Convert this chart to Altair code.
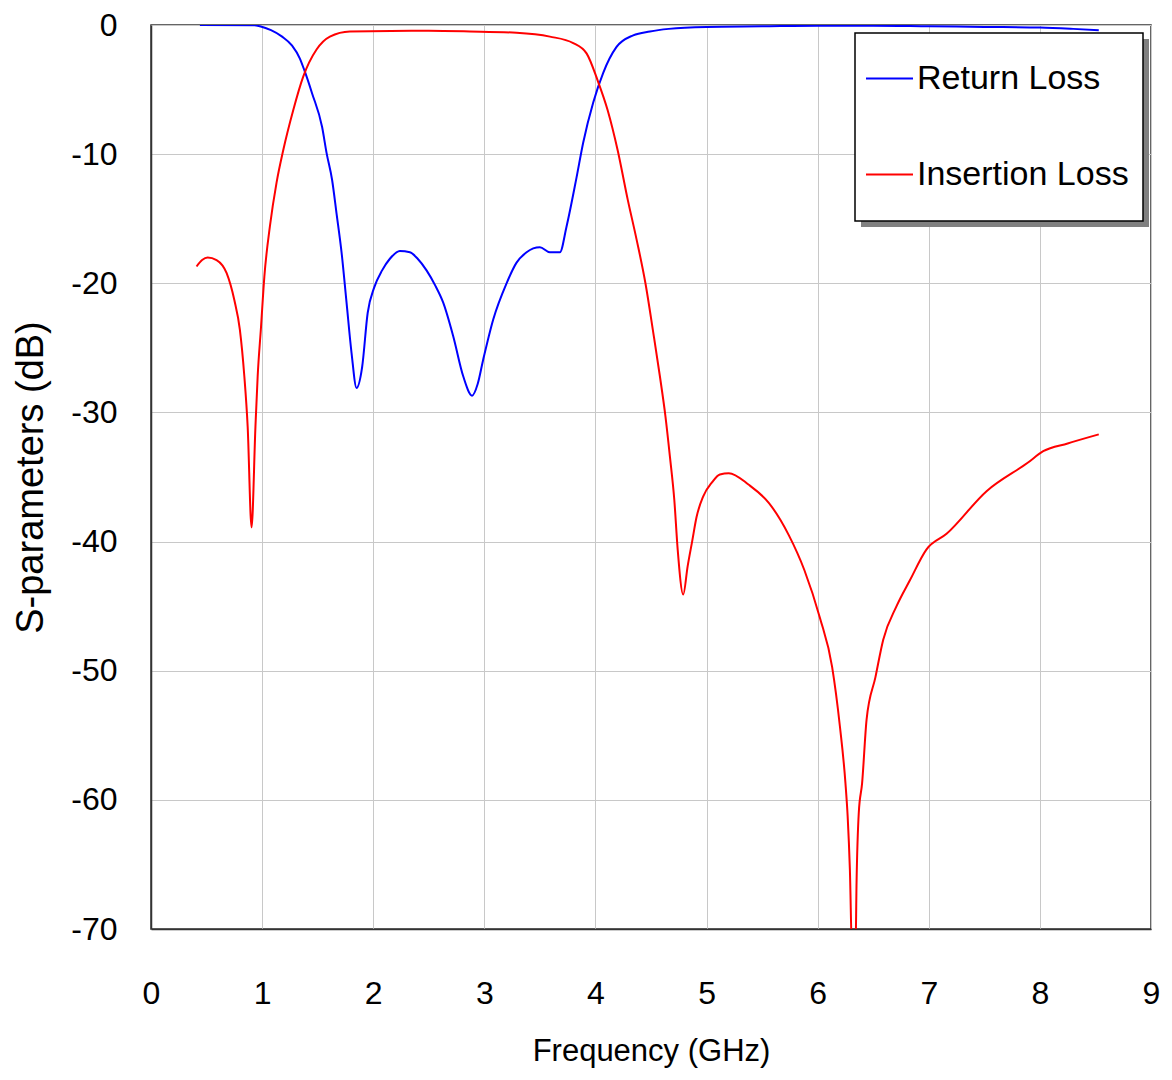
import altair as alt
import pandas as pd

# Return Loss (S11) – frequency in GHz, value in dB
rl_freq = [0.44, 0.93, 0.98, 1.08, 1.18, 1.27, 1.34, 1.38, 1.45, 1.54, 1.58, 1.63, 1.67, 1.715,
           1.76, 1.805, 1.85, 1.90, 1.95, 2.01, 2.08, 2.15, 2.24, 2.33, 2.40, 2.48, 2.56,
           2.63, 2.72, 2.81, 2.89, 2.94, 2.99, 3.08, 3.20, 3.29, 3.38, 3.44, 3.50, 3.59, 3.68,
           3.74, 3.83, 3.89, 3.98, 4.07, 4.19, 4.34, 4.49, 4.66, 5.00, 5.50, 6.00, 6.50, 7.00,
           7.50, 8.00, 8.30, 8.53]
rl_db = [0.0, -0.02, -0.1, -0.4, -0.9, -1.6, -2.6, -3.5, -5.3, -7.9, -9.9, -12.0, -14.6, -17.6,
         -21.5, -25.4, -28.1, -26.5, -22.3, -20.3, -19.0, -18.1, -17.5, -17.6, -18.1, -19.0, -20.2,
         -21.5, -24.1, -27.2, -28.7, -27.8, -25.9, -22.8, -20.0, -18.4, -17.6, -17.3, -17.2, -17.6, -17.6,
         -15.6, -11.8, -9.1, -6.0, -3.7, -1.7, -0.8, -0.5, -0.3, -0.15, -0.1, -0.05, -0.05, -0.1,
         -0.15, -0.2, -0.3, -0.4]

# Insertion Loss (S21)
il_freq = [0.41, 0.46, 0.51, 0.59, 0.68, 0.75, 0.80, 0.84, 0.87, 0.905, 0.94, 0.96, 0.99, 1.02,
           1.07, 1.13, 1.19, 1.28, 1.37, 1.49, 1.61, 1.79, 2.50, 2.87, 3.29, 3.59, 3.80, 3.92,
           4.02, 4.11, 4.20, 4.29, 4.37, 4.45, 4.52, 4.58, 4.63, 4.67, 4.71, 4.74, 4.79, 4.83,
           4.87, 4.91, 4.97, 5.05, 5.12, 5.20, 5.38, 5.56, 5.74, 5.88, 6.02, 6.13, 6.20, 6.25,
           6.27, 6.29, 6.31, 6.34, 6.35, 6.37, 6.40, 6.44, 6.52, 6.59, 6.71, 6.83, 6.98, 7.16,
           7.52, 7.89, 8.03, 8.25, 8.53]
il_db = [-18.7, -18.2, -18.0, -18.2, -19.2, -21.3, -23.6, -27.2, -31.1, -38.9, -31.1, -27.2, -23.4, -19.5,
         -15.6, -12.2, -9.7, -6.6, -4.0, -1.9, -0.9, -0.5, -0.45, -0.5, -0.6, -0.9, -1.4, -2.2,
         -4.3, -6.6, -9.7, -13.5, -16.6, -20.0, -23.8, -27.2, -30.3, -33.4, -36.8, -40.6, -44.1, -41.9,
         -40.0, -38.1, -36.5, -35.4, -34.8, -34.7, -35.6, -37.0, -39.5, -42.2, -45.9, -49.7, -54.3, -58.7,
         -61.3, -65.4, -72.0, -72.0, -66.4, -61.0, -58.7, -53.8, -50.5, -47.6, -45.0, -43.0, -40.6, -39.4,
         -36.1, -33.9, -33.0, -32.4, -31.7]

series_names = ["Return Loss", "Insertion Loss"]
series_colors = ["#0000ff", "#ff0000"]
x_ticks = list(range(0, 10))
y_ticks = list(range(-70, 1, 10))

df = pd.concat([
    pd.DataFrame({"f": rl_freq, "s": rl_db, "series": series_names[0], "order": range(len(rl_freq))}),
    pd.DataFrame({"f": il_freq, "s": il_db, "series": series_names[1], "order": range(len(il_freq))}),
])

font = "Liberation Sans, Arial, Helvetica, sans-serif"

lines = alt.Chart(df).mark_line(clip=True, strokeWidth=2, interpolate="monotone").encode(
    x=alt.X("f:Q", scale=alt.Scale(domain=[0, 9], nice=False),
            axis=alt.Axis(title="Frequency (GHz)", values=x_ticks, labelExpr="toString(datum.value)",
                          labelFlush=False, ticks=False, labelPadding=49, titlePadding=27,
                          titleFontSize=31)),
    y=alt.Y("s:Q", scale=alt.Scale(domain=[-70, 0], nice=False),
            axis=alt.Axis(title="S-parameters (dB)", values=y_ticks, labelExpr="toString(datum.value)",
                          labelFlush=False, ticks=False, labelPadding=34, titlePadding=20,
                          titleFontSize=38)),
    color=alt.Color("series:N", sort=series_names,
                    scale=alt.Scale(domain=series_names, range=series_colors),
                    legend=alt.Legend(title=None, orient="none", legendX=714, legendY=29,
                                      symbolType="stroke", symbolSize=2209, symbolStrokeWidth=2,
                                      labelFont=font, labelFontSize=34, labelColor="black",
                                      labelLimit=0, labelOffset=3, rowPadding=54, padding=0)),
    order="order:Q",
)

box_data = pd.DataFrame({"a": [0]})
shadow = alt.Chart(box_data).mark_rect(color="#808080").encode(
    x=alt.value(710), x2=alt.value(998), y=alt.value(14), y2=alt.value(202)
)
box = alt.Chart(box_data).mark_rect(color="white", stroke="black", strokeWidth=1.5).encode(
    x=alt.value(704), x2=alt.value(992), y=alt.value(8), y2=alt.value(196)
)

chart = alt.layer(lines, shadow, box).properties(
    width=1000, height=904,
    autosize=alt.AutoSizeParams(type="none"),
    padding={"left": 143, "top": 17, "right": 13, "bottom": 140},
).configure_view(
    stroke="#333333", strokeWidth=1.5
).configure_axis(
    labelFont=font, labelFontSize=32, labelColor="black",
    titleFont=font, titleColor="black", titleFontWeight="normal",
    gridColor="#c8c8c8", gridWidth=1, domainColor="#333333", domainWidth=1.5,
)

chart.save("out.html", embed_options={"renderer": "svg", "actions": False})
